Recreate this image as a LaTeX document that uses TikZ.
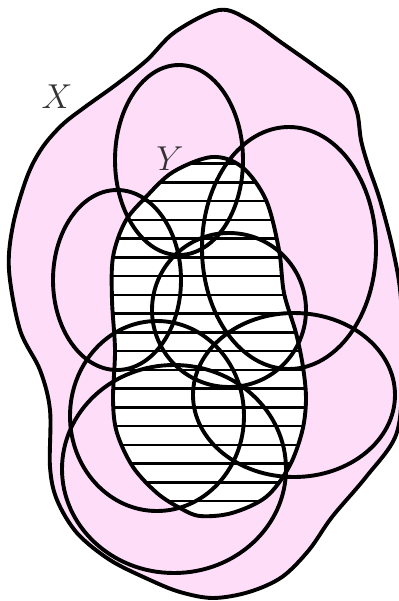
\documentclass[tikz,border=0pt]{standalone}
\definecolor{xpink}{RGB}{253,221,248}
\tikzset{
  outline/.style={draw=black, line width=1.95pt},
  ring/.style={draw=black, line width=1.95pt},
  hatch/.style={draw=black, line width=1.25pt},
  lab/.style={inner sep=0pt, text=black!80, font=\fontsize{17}{20}\selectfont}
}
\begin{document}
\begin{tikzpicture}[x=0.5pt, y=-0.5pt, line join=round]
\useasboundingbox (0,0) rectangle (399,601);
\clip (0,0) rectangle (399,601);
% X region
\path[fill=xpink, outline] plot[smooth cycle, tension=0.55] coordinates {
 (219,10) (249,20) (282,43) (316,67) (346,90) (357,112) (361,140) (368,165)
 (380,200) (393,250) (401,300) (402,380) (396,435) (366,477) (332,517)
 (309,550) (282,577) (249,592) (213,598) (180,592) (150,580) (110,560)
 (77,533) (57,500) (50,467) (50,410) (40,370) (20,330) (9,270) (13,225)
 (27,177) (42,148) (62,125) (85,107) (117,84) (147,60) (175,32)};
% Y region
\path[fill=white] plot[smooth cycle, tension=0.55] coordinates {
 (212,157) (242,167) (266,200) (279,250) (284,293) (296,333) (303,367)
 (306,400) (302,432) (289,467) (266,497) (232,513) (200,516) (180,508)
 (157,493) (133,467) (117,433) (113,400) (115,350) (112,300) (113,257)
 (125,222) (145,198) (173,172)};
\begin{scope}
\clip plot[smooth cycle, tension=0.55] coordinates {
 (212,157) (242,167) (266,200) (279,250) (284,293) (296,333) (303,367)
 (306,400) (302,432) (289,467) (266,497) (232,513) (200,516) (180,508)
 (157,493) (133,467) (117,433) (113,400) (115,350) (112,300) (113,257)
 (125,222) (145,198) (173,172)};
\foreach \i in {0,...,18}
  \draw[hatch] (95,{163.5+18.75*\i}) -- (320,{163.5+18.75*\i});
\end{scope}
\path[outline] plot[smooth cycle, tension=0.55] coordinates {
 (212,157) (242,167) (266,200) (279,250) (284,293) (296,333) (303,367)
 (306,400) (302,432) (289,467) (266,497) (232,513) (200,516) (180,508)
 (157,493) (133,467) (117,433) (113,400) (115,350) (112,300) (113,257)
 (125,222) (145,198) (173,172)};
% labels
\node[lab] (lx) at (57,97) {$X$};
\node[lab] (ly) at (170,159) {$Y$};
% covering sets
\draw[ring] (179,160) ellipse [x radius=64, y radius=95];
\draw[ring] (117,280) ellipse [x radius=64, y radius=90];
\draw[ring] (289,248) ellipse [x radius=87, y radius=121];
\draw[ring] (229,310) ellipse [x radius=77, y radius=77];
\draw[ring] (294,395) ellipse [x radius=101, y radius=82];
\draw[ring] (157,416) ellipse [x radius=87, y radius=95];
\draw[ring] (174,469) ellipse [x radius=112, y radius=104];
\end{tikzpicture}
\end{document}
